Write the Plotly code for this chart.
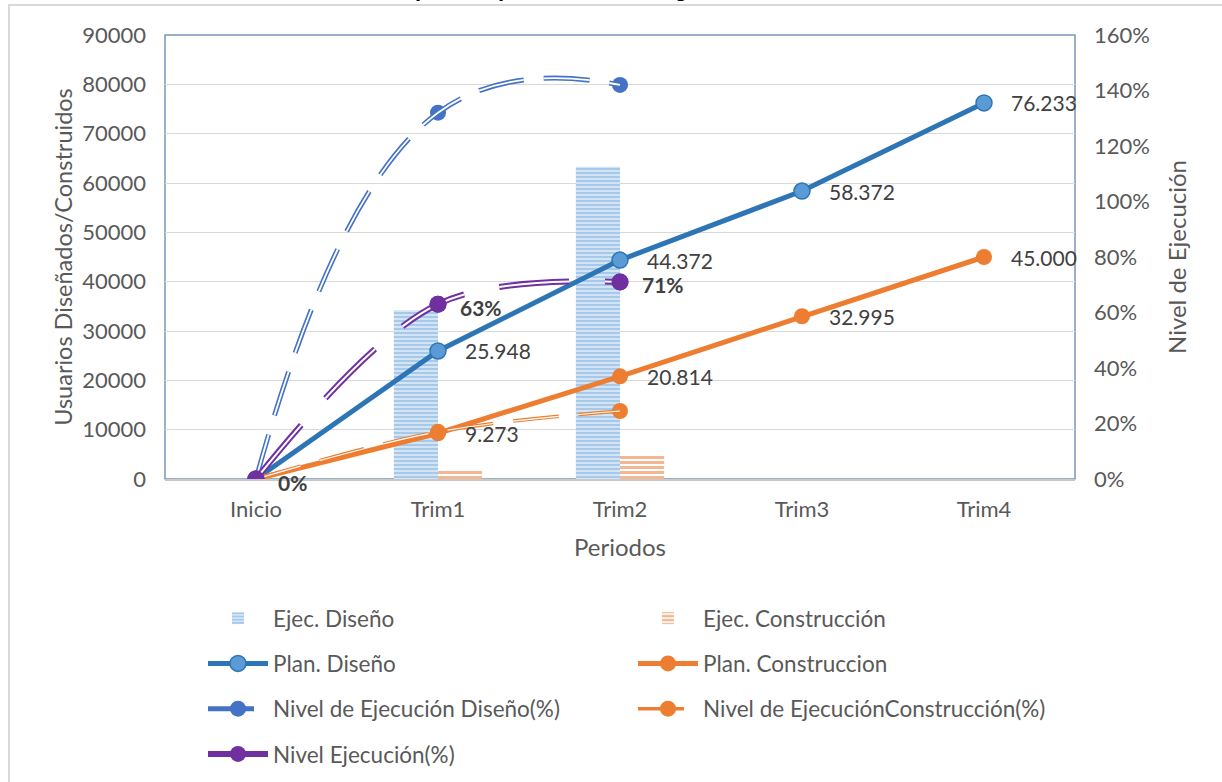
import plotly.graph_objects as go

periodos = ["Inicio", "Trim1", "Trim2", "Trim3", "Trim4"]
plan_diseno = [0, 25948, 44372, 58372, 76233]
plan_construccion = [0, 9273, 20814, 32995, 45000]
ejec_diseno = [None, 34200, 63300, None, None]
ejec_construccion = [None, 1600, 4850, None, None]
nivel_diseno = [0, 1.32, 1.42]
nivel_construccion = [0, 0.17, 0.245]
nivel_ejecucion = [0, 0.63, 0.71]
nivel_labels = ["0%", "63%", "71%"]

FONT = "Lato"
GRAY = "#595959"
BLUE_D = "#2e75b6"
BLUE_L = "#5b9bd5"
BLUE_N = "#4472c4"
ORANGE = "#ed7d31"
PURPLE = "#7030a0"

fig = go.Figure()

# Bars
fig.add_trace(go.Bar(
    x=periodos, y=ejec_diseno, name="Ejec. Diseño",
    marker=dict(color="white", line=dict(width=0),
                pattern=dict(shape="-", fgcolor="#4f93d3", bgcolor="white", size=4, solidity=0.75)),
    legend="legend", legendrank=1, legendgroup="a"))
fig.add_trace(go.Bar(
    x=periodos, y=ejec_construccion, name="Ejec. Construcción",
    marker=dict(color="white", line=dict(width=0),
                pattern=dict(shape="-", fgcolor="#e8702a", bgcolor="white", size=5, solidity=0.6)),
    legend="legend2", legendrank=1, legendgroup="b"))

# Plan lines
fig.add_trace(go.Scatter(
    x=periodos, y=plan_diseno, name="Plan. Diseño", mode="lines+markers",
    line=dict(color=BLUE_D, width=5),
    marker=dict(size=16, color=BLUE_L, line=dict(color=BLUE_D, width=1.5)),
    legend="legend", legendrank=2, legendgroup="c"))
fig.add_trace(go.Scatter(
    x=periodos, y=plan_construccion, name="Plan. Construccion", mode="lines+markers",
    line=dict(color=ORANGE, width=5),
    marker=dict(size=16, color=ORANGE),
    legend="legend2", legendrank=2, legendgroup="d"))

# Nivel de ejecución diseño (double dashed line)
x3 = periodos[:3]
fig.add_trace(go.Scatter(
    x=x3, y=nivel_diseno, yaxis="y2", name="Nivel de Ejecución Diseño(%)", mode="lines+markers",
    line=dict(color=BLUE_N, width=5, dash="46px,20px", shape="spline", smoothing=1.3),
    marker=dict(size=16, color=BLUE_N),
    legend="legend", legendrank=3, legendgroup="e"))
fig.add_trace(go.Scatter(
    x=x3, y=nivel_diseno, yaxis="y2", mode="lines", showlegend=False, hoverinfo="skip",
    line=dict(color="white", width=1.8, dash="46px,20px", shape="spline", smoothing=1.3),
    legendgroup="e"))

# Nivel de ejecución construcción
fig.add_trace(go.Scatter(
    x=x3, y=nivel_construccion, yaxis="y2", name="Nivel de EjecuciónConstrucción(%)", mode="lines+markers",
    line=dict(color=ORANGE, width=3.5, dash="46px,20px", shape="spline", smoothing=1),
    marker=dict(size=16, color=ORANGE),
    legend="legend2", legendrank=3, legendgroup="f"))
fig.add_trace(go.Scatter(
    x=x3, y=nivel_construccion, yaxis="y2", mode="lines", showlegend=False, hoverinfo="skip",
    line=dict(color="white", width=1.2, dash="46px,20px", shape="spline", smoothing=1),
    legendgroup="f"))

# Nivel ejecución (purple)
fig.add_trace(go.Scatter(
    x=x3, y=nivel_ejecucion, yaxis="y2", name="Nivel Ejecución(%)", mode="lines+markers",
    line=dict(color=PURPLE, width=6, dash="70px,36px", shape="spline", smoothing=1),
    marker=dict(size=17, color=PURPLE),
    legend="legend", legendrank=4, legendgroup="g"))
fig.add_trace(go.Scatter(
    x=x3, y=nivel_ejecucion, yaxis="y2", mode="lines", showlegend=False, hoverinfo="skip",
    line=dict(color="white", width=2, dash="70px,36px", shape="spline", smoothing=1),
    legendgroup="g"))
fig.add_trace(go.Scatter(
    x=x3, y=nivel_ejecucion, yaxis="y2", mode="markers", showlegend=False, hoverinfo="skip",
    marker=dict(size=17, color=PURPLE)))

annotations = []
def fmt(v):
    return f"{v:,}".replace(",", ".")
LABEL_FONT = dict(family=FONT, size=21, color="#404040")
for cat, v in zip(periodos[1:], plan_diseno[1:]):
    annotations.append(dict(x=cat, y=v, xref="x", yref="y", text=fmt(v), showarrow=False,
                            xanchor="left", yanchor="middle", xshift=25, font=LABEL_FONT))
for cat, v in zip(periodos[1:], plan_construccion[1:]):
    annotations.append(dict(x=cat, y=v, xref="x", yref="y", text=fmt(v), showarrow=False,
                            xanchor="left", yanchor="middle", xshift=25, font=LABEL_FONT))
for cat, v, t in zip(x3, nivel_ejecucion, nivel_labels):
    annotations.append(dict(x=cat, y=v, xref="x", yref="y2", text=f"<b>{t}</b>", showarrow=False,
                            xanchor="left", yanchor="middle", xshift=20, yshift=-3, font=LABEL_FONT))
# partially visible title
annotations.append(dict(x=(413 - 165) / 910, y=1.0, xref="paper", yref="paper", yshift=32,
                        text="<b>plan de pérdidas de energía</b>", showarrow=False,
                        xanchor="left", yanchor="bottom",
                        font=dict(family="Liberation Sans", size=22, color="black")))

shapes = [
    # outer chart border
    dict(type="rect", xref="paper", yref="paper",
         x0=(9 - 165) / 910, x1=(1240 - 165) / 910, y0=(479 - 800) / 444, y1=(479 - 5) / 444,
         line=dict(color="#d9d9d9", width=2), layer="below"),
    # plot area frame
    dict(type="rect", xref="paper", yref="paper", x0=0, x1=1, y0=0, y1=1,
         line=dict(color="#7a96b8", width=1.5), layer="below"),
]

fig.update_layout(
    width=1222, height=782,
    margin=dict(l=165, r=147, t=35, b=303),
    paper_bgcolor="white", plot_bgcolor="white",
    font=dict(family=FONT, size=22, color=GRAY),
    barmode="group", bargap=0.515, bargroupgap=0,
    xaxis=dict(range=[-0.5, 4.5], showgrid=False, showline=True, linecolor="#c9c9c9", linewidth=1.5,
               ticks="", tickfont=dict(size=22, color=GRAY), ticklabelstandoff=10,
               title=dict(text="Periodos", font=dict(size=24, color=GRAY), standoff=18)),
    yaxis=dict(range=[0, 90000], dtick=10000, tickformat="d", showgrid=True, gridcolor="#d9d9d9",
               gridwidth=1.2, zeroline=False, ticks="", tickfont=dict(size=22, color=GRAY),
               ticklabelstandoff=18,
               title=dict(text="Usuarios Diseñados/Construidos", font=dict(size=23.5, color=GRAY), standoff=2)),
    yaxis2=dict(range=[0, 1.6], dtick=0.2, tickformat=".0%", overlaying="y", side="right",
                showgrid=False, zeroline=False, ticks="", tickfont=dict(size=22, color=GRAY),
                ticklabelstandoff=18,
                title=dict(text="Nivel de Ejecución", font=dict(size=24, color=GRAY), standoff=20)),
    legend=dict(orientation="v", xref="paper", yref="container",
                x=(203 - 165) / 910, xanchor="left", y=1 - 597 / 782, yanchor="top",
                traceorder="grouped", tracegroupgap=13, itemwidth=60,
                font=dict(family=FONT, size=22.5, color=GRAY), bgcolor="rgba(0,0,0,0)"),
    legend2=dict(orientation="v", xref="paper", yref="container",
                 x=(633 - 165) / 910, xanchor="left", y=1 - 597 / 782, yanchor="top",
                 traceorder="grouped", tracegroupgap=13, itemwidth=60,
                 font=dict(family=FONT, size=22.5, color=GRAY), bgcolor="rgba(0,0,0,0)"),
    annotations=annotations,
    shapes=shapes,
    showlegend=True,
)

fig.write_html("out.html")
